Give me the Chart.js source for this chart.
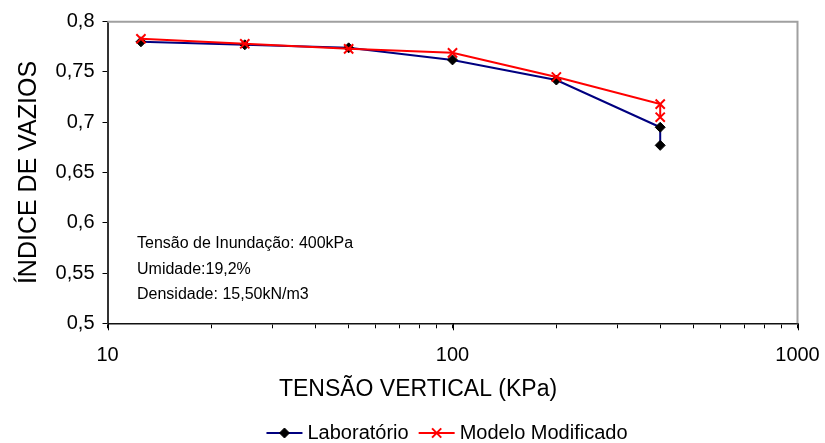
<!DOCTYPE html>
<html>
<head>
<meta charset="utf-8">
<script src="https://cdn.jsdelivr.net/npm/chart.js@4.4.1/dist/chart.umd.min.js"></script>
<style>
  html, body { margin: 0; padding: 0; background: #ffffff; }
  #wrap { width: 825px; height: 443px; }
</style>
</head>
<body>
<div id="wrap"><canvas id="c" width="825" height="443"></canvas></div>
<script>
// Vertical stress (kPa) for each reading; the last stage is repeated after inundation
const pressures = [12.5, 25, 50, 100, 200, 400, 400];
// Void ratio measured in the laboratory
const labVoids = [0.780, 0.777, 0.774, 0.762, 0.742, 0.695, 0.677];
// Void ratio given by the modified model
const modelVoids = [0.783, 0.778, 0.773, 0.769, 0.745, 0.718, 0.705];

const seriesNames = ['Laboratório', 'Modelo Modificado'];
const xTickLabels = [10, 100, 1000];
const xMinorTicks = [20, 30, 40, 50, 60, 70, 80, 90, 200, 300, 400, 500, 600, 700, 800, 900];
const yTickLabels = ['0,5', '0,55', '0,6', '0,65', '0,7', '0,75', '0,8'];
const notes = ['Tensão de Inundação: 400kPa', 'Umidade:19,2%', 'Densidade: 15,50kN/m3'];
const xTitle = 'TENSÃO VERTICAL (KPa)';
const yTitle = 'ÍNDICE DE VAZIOS';

const FONT = "'Liberation Sans', Arial, sans-serif";

function points(xs, ys) {
  return xs.map((x, i) => ({ x: x, y: ys[i] }));
}

// Gray frame on the top and right of the plot area
const framePlugin = {
  id: 'frame',
  beforeDatasetsDraw(chart) {
    const { ctx, chartArea: a } = chart;
    ctx.save();
    ctx.strokeStyle = '#a0a0a0';
    ctx.lineWidth = 2;
    ctx.beginPath();
    ctx.moveTo(a.left, a.top);
    ctx.lineTo(a.right, a.top);
    ctx.lineTo(a.right, a.bottom);
    ctx.stroke();
    ctx.restore();
  }
};

// Longer tick marks at the decades of the log axis
const majorTickPlugin = {
  id: 'majorTicks',
  afterDraw(chart) {
    const { ctx, chartArea: a } = chart;
    const xs = chart.scales.x;
    ctx.save();
    ctx.strokeStyle = '#000';
    ctx.lineWidth = 1;
    xTickLabels.forEach(v => {
      const px = Math.round(xs.getPixelForValue(v)) + 0.5;
      ctx.beginPath();
      ctx.moveTo(px, a.bottom);
      ctx.lineTo(px, a.bottom + 7);
      ctx.stroke();
    });
    ctx.restore();
  }
};

// Horizontal axis title, test conditions and the legend
const textPlugin = {
  id: 'texts',
  afterDraw(chart) {
    const { ctx } = chart;
    ctx.save();
    ctx.fillStyle = '#000';
    ctx.textBaseline = 'middle';

    ctx.font = '23px ' + FONT;
    ctx.textAlign = 'center';
    ctx.fillText(xTitle, 418, 390);

    ctx.font = '16px ' + FONT;
    ctx.textAlign = 'left';
    notes.forEach((t, i) => ctx.fillText(t, 137, 244 + i * 25.5));

    // legend: a line sample with its marker, then the series name
    const y = 433;
    const lineLen = 36, gapText = 5, gapItem = 10;
    ctx.font = '20px ' + FONT;
    const widths = seriesNames.map(n => ctx.measureText(n).width);
    const total = widths.reduce((s, w) => s + lineLen + gapText + w, 0) + gapItem * (seriesNames.length - 1);
    let x = 447 - total / 2;
    chart.data.datasets.forEach((ds, i) => {
      ctx.strokeStyle = ds.borderColor;
      ctx.lineWidth = 2;
      ctx.beginPath();
      ctx.moveTo(x, y);
      ctx.lineTo(x + lineLen, y);
      ctx.stroke();
      ctx.fillStyle = ds.pointBackgroundColor;
      ctx.strokeStyle = ds.pointBorderColor;
      ctx.lineWidth = ds.pointBorderWidth;
      Chart.helpers.drawPoint(ctx, {
        pointStyle: ds.pointStyle,
        radius: ds.pointRadius,
        borderWidth: ds.pointBorderWidth,
        rotation: 0
      }, x + lineLen / 2, y);
      ctx.fillStyle = '#000';
      ctx.fillText(seriesNames[i], x + lineLen + gapText, y);
      x += lineLen + gapText + widths[i] + gapItem;
    });
    ctx.restore();
  }
};

new Chart(document.getElementById('c'), {
  type: 'scatter',
  data: {
    datasets: [
      {
        label: seriesNames[0],
        data: points(pressures, labVoids),
        showLine: true,
        borderColor: '#000080',
        borderWidth: 2,
        pointStyle: 'rectRot',
        pointRadius: 5,
        pointBackgroundColor: '#000000',
        pointBorderColor: '#000000',
        pointBorderWidth: 1,
        tension: 0,
        order: 2
      },
      {
        label: seriesNames[1],
        data: points(pressures, modelVoids),
        showLine: true,
        borderColor: '#ff0000',
        borderWidth: 2,
        pointStyle: 'crossRot',
        pointRadius: 6.5,
        pointBackgroundColor: '#ff0000',
        pointBorderColor: '#ff0000',
        pointBorderWidth: 2,
        tension: 0,
        order: 1
      }
    ]
  },
  options: {
    responsive: false,
    devicePixelRatio: 1,
    animation: false,
    layout: { padding: { top: 21.7, right: 27.5, left: 0, bottom: 0 } },
    plugins: {
      legend: { display: false },
      tooltip: { enabled: false }
    },
    scales: {
      x: {
        type: 'logarithmic',
        min: 10,
        max: 1000,
        afterFit(scale) {
          scale.height = 443 - 323.3;
          scale.paddingLeft = 0;
          scale.paddingRight = 0;
        },
        afterBuildTicks(scale) {
          const vals = xTickLabels.concat(xMinorTicks).sort((a, b) => a - b);
          scale.ticks = vals.map(v => ({ value: v, major: xTickLabels.includes(v) }));
        },
        ticks: {
          autoSkip: false,
          maxRotation: 0,
          padding: 15,
          color: '#000',
          font: { family: FONT, size: 20 },
          callback: (v) => xTickLabels.includes(v) ? String(v) : ''
        },
        grid: { display: true, drawOnChartArea: false, drawTicks: true, tickLength: 5, color: '#000', lineWidth: 1 },
        border: { display: true, color: '#111', width: 1.5 },
        title: { display: false }
      },
      y: {
        type: 'linear',
        min: 0.5,
        max: 0.8,
        afterFit(scale) {
          scale.width = 107.5;
          scale.paddingTop = 0;
          scale.paddingBottom = 0;
        },
        afterBuildTicks(scale) {
          scale.ticks = yTickLabels.map(s => ({ value: parseFloat(s.replace(',', '.')) }));
        },
        ticks: {
          padding: 8,
          color: '#000',
          font: { family: FONT, size: 20 },
          callback: (v, i) => yTickLabels[i]
        },
        grid: { display: true, drawOnChartArea: false, drawTicks: true, tickLength: 5, color: '#000', lineWidth: 1 },
        border: { display: true, color: '#333', width: 2 },
        title: {
          display: true,
          text: yTitle,
          color: '#000',
          font: { family: FONT, size: 25 },
          padding: { top: 14, bottom: 0 }
        }
      }
    }
  },
  plugins: [framePlugin, majorTickPlugin, textPlugin]
});
</script>
</body>
</html>
